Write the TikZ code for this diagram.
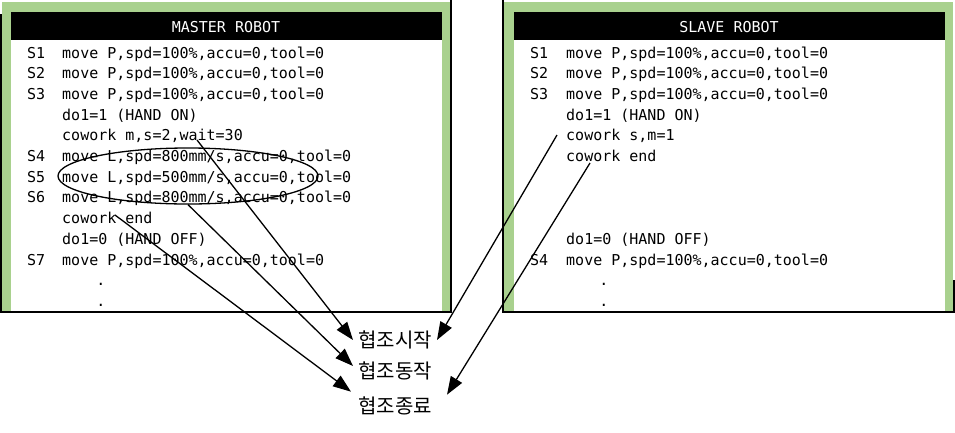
\documentclass[tikz,border=0pt]{standalone}
\usepackage{fontspec}
\setmonofont{DejaVu Sans Mono}
\newfontfamily\kor{Noto Sans CJK KR}
\usetikzlibrary{arrows.meta,shapes.geometric}
\definecolor{framegreen}{RGB}{169,209,142}

\begin{document}
\begin{tikzpicture}[x=1pt,y=-1pt,>={Triangle[length=18pt,width=13pt]}]
  \tikzset{code style/.style = {anchor=base west, inner sep=0pt, font=\ttfamily\fontsize{15}{18}\selectfont},
           dot style/.style = {code style, anchor=base},
           title style/.style = {code style, anchor=base, text=white},
           word style/.style = {inner sep=5pt, font=\kor\fontsize{20}{24}\selectfont},
           link style/.style = {line width=1.3pt, ->}}
  \useasboundingbox (0,0) rectangle (955,432);

  % master frame
  \fill[framegreen] (2,2) rectangle (450,311);
  \fill[white] (11,40) rectangle (442,311);
  \fill[black] (11,12) rectangle (442,40);
  \fill[black] (0,14) rectangle (2,313);
  \fill[black] (450,0) rectangle (452,313);
  \fill[black] (0,311) rectangle (452,313);
  % slave frame
  \fill[framegreen] (504,2) rectangle (953,311);
  \fill[white] (514,40) rectangle (945,311);
  \fill[black] (514,12) rectangle (945,40);
  \fill[black] (502,0) rectangle (504,313);
  \fill[black] (502,311) rectangle (955,313);
  \fill[black] (953,280) rectangle (955,313);

  \node[title style] (mtitle) at (226,32) {MASTER ROBOT};
  \node[title style] (stitle) at (729,32) {SLAVE ROBOT};

  % master program
  \node[code style] (mS1) at (27,58) {S1};
  \node[code style] (m1) at (62,58) {move P,spd=100\%,accu=0,tool=0};
  \node[code style] (mS2) at (27,78.7) {S2};
  \node[code style] (m2) at (62,78.7) {move P,spd=100\%,accu=0,tool=0};
  \node[code style] (mS3) at (27,99.4) {S3};
  \node[code style] (m3) at (62,99.4) {move P,spd=100\%,accu=0,tool=0};
  \node[code style] (m4) at (62,120.1) {do1=1 (HAND ON)};
  \node[code style] (m5) at (62,140.8) {cowork m,s=2,wait=30};
  \node[code style] (mS4) at (27,161.5) {S4};
  \node[code style] (m6) at (62,161.5) {move L,spd=800mm/s,accu=0,tool=0};
  \node[code style] (mS5) at (27,182.2) {S5};
  \node[code style] (m7) at (62,182.2) {move L,spd=500mm/s,accu=0,tool=0};
  \node[code style] (mS6) at (27,202.9) {S6};
  \node[code style] (m8) at (62,202.9) {move L,spd=800mm/s,accu=0,tool=0};
  \node[code style] (m9) at (62,223.6) {cowork end};
  \node[code style] (m10) at (62,244.3) {do1=0 (HAND OFF)};
  \node[code style] (mS7) at (27,265) {S7};
  \node[code style] (m11) at (62,265) {move P,spd=100\%,accu=0,tool=0};
  \node[dot style] (mdot1) at (101,285.7) {.};
  \node[dot style] (mdot2) at (101,306.4) {.};

  % slave program
  \node[code style] (sS1) at (530,58) {S1};
  \node[code style] (s1) at (566,58) {move P,spd=100\%,accu=0,tool=0};
  \node[code style] (sS2) at (530,78.7) {S2};
  \node[code style] (s2) at (566,78.7) {move P,spd=100\%,accu=0,tool=0};
  \node[code style] (sS3) at (530,99.4) {S3};
  \node[code style] (s3) at (566,99.4) {move P,spd=100\%,accu=0,tool=0};
  \node[code style] (s4) at (566,120.1) {do1=1 (HAND ON)};
  \node[code style] (s5) at (566,140.8) {cowork s,m=1};
  \node[code style] (s6) at (566,161.5) {cowork end};
  \node[code style] (s7) at (566,244.3) {do1=0 (HAND OFF)};
  \node[code style] (sS4) at (530,265) {S4};
  \node[code style] (s8) at (566,265) {move P,spd=100\%,accu=0,tool=0};
  \node[dot style] (sdot1) at (604,285.7) {.};
  \node[dot style] (sdot2) at (604,306.4) {.};

  \node[draw, ellipse, line width=1.3pt, inner sep=0pt, minimum width=260pt, minimum height=56pt] (loop) at (188,176) {};

  \node[word style] (start) at (395,340) {협조시작};
  \node[word style] (run) at (395,371) {협조동작};
  \node[word style] (finish) at (395,406) {협조종료};

  \coordinate (mwait) at (197,140);
  \coordinate (mend) at (115,215);
  \coordinate (scowork) at (557,135);
  \coordinate (send) at (590,163);

  \draw[link style] (mwait) -- (start.west);
  \draw[link style] (loop.south) -- ([yshift=5pt]run.west);
  \draw[link style] (mend) -- ([xshift=-2pt]finish.north west);
  \draw[link style] (scowork) -- (start.east);
  \draw[link style] (send) -- ([xshift=10pt,yshift=-3pt]finish.north east);
\end{tikzpicture}
\end{document}
